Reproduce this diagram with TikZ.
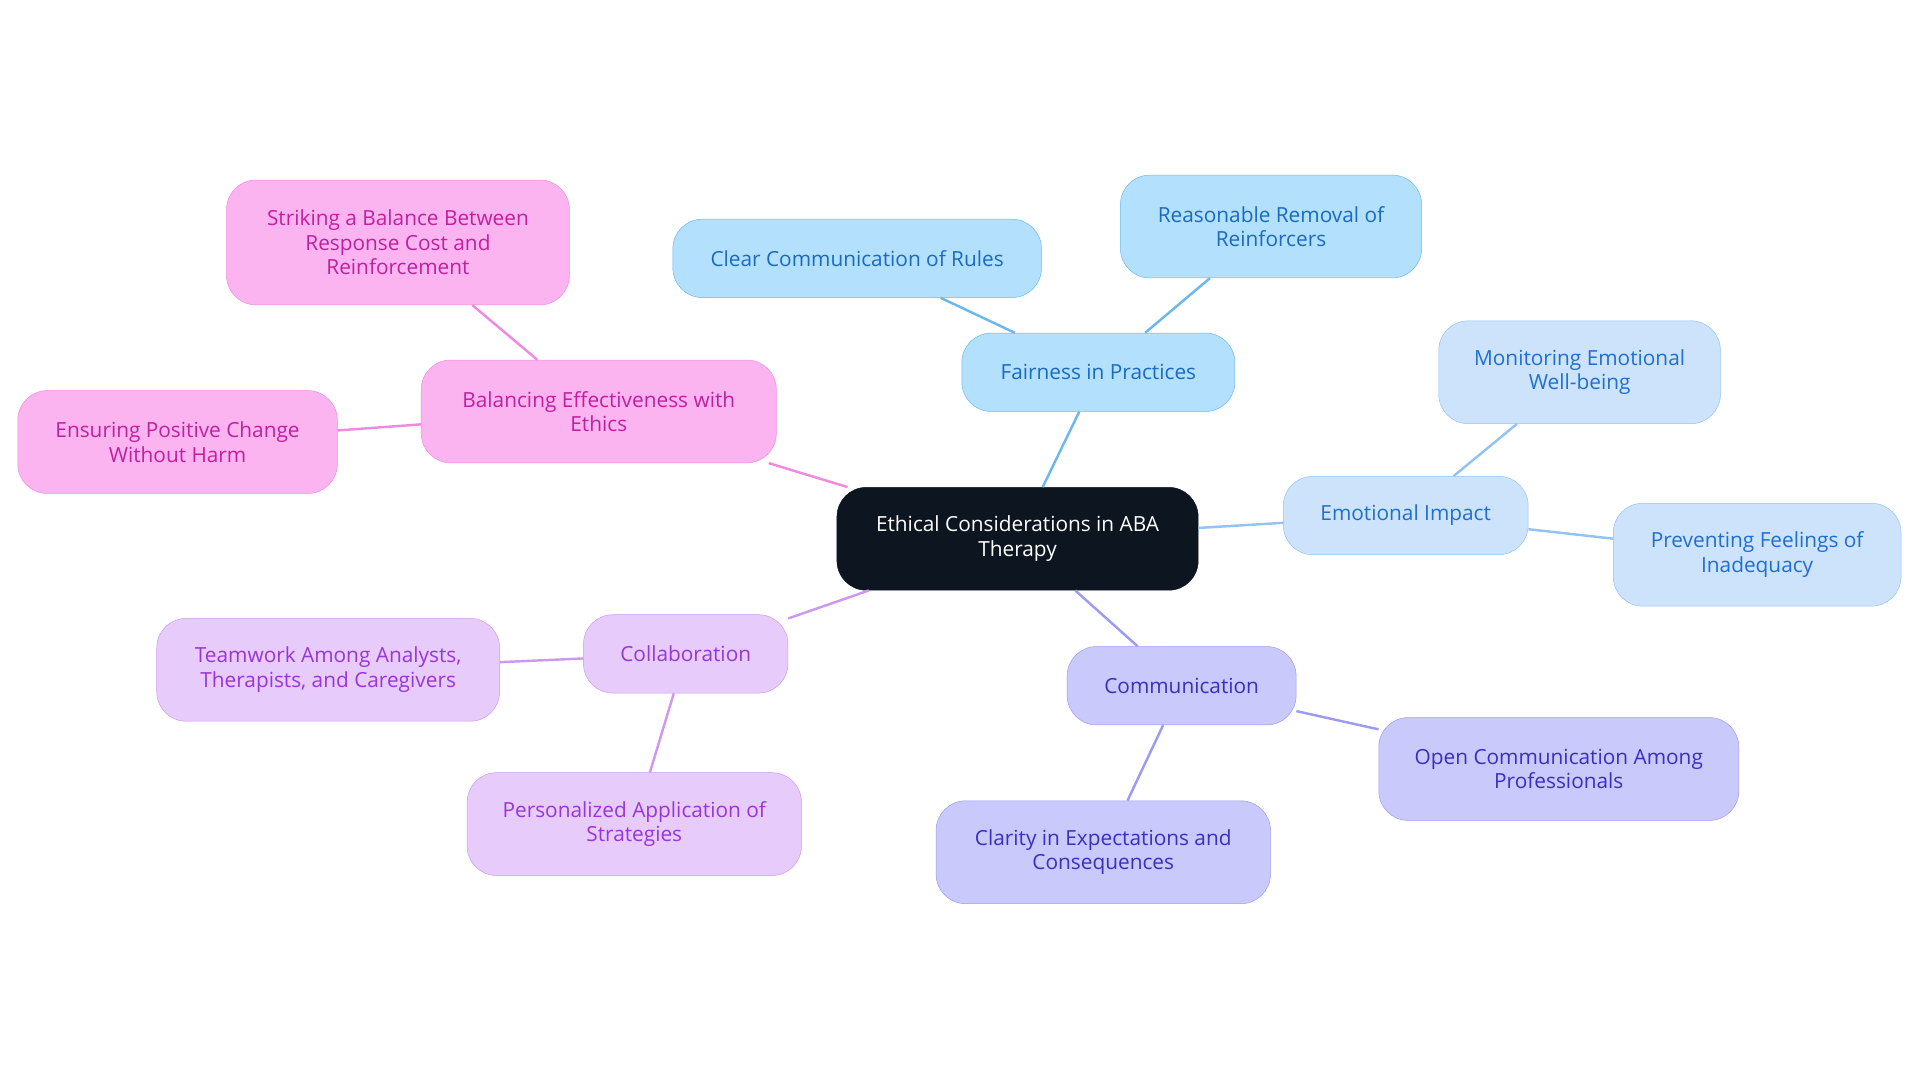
\documentclass[tikz,border=0pt]{standalone}
\usepackage{fontspec}
\setmainfont{Open Sans}
\usepackage{xcolor}
\definecolor{rootfill}{HTML}{0D1520}
\definecolor{fairfill}{HTML}{B3E0FD}\definecolor{fairline}{HTML}{6AB8EE}\definecolor{fairtext}{HTML}{1A6BC0}
\definecolor{emofill}{HTML}{CDE3FB}\definecolor{emoline}{HTML}{94C2F2}\definecolor{emotext}{HTML}{1F6FD0}
\definecolor{comfill}{HTML}{C9C9FB}\definecolor{comline}{HTML}{9B9BF2}\definecolor{comtext}{HTML}{3A2FC0}
\definecolor{colfill}{HTML}{E6CBFB}\definecolor{colline}{HTML}{CF98F0}\definecolor{coltext}{HTML}{9A35D8}
\definecolor{balfill}{HTML}{FCB4F0}\definecolor{balline}{HTML}{F08AE0}\definecolor{baltext}{HTML}{C0209F}
\tikzset{
  box/.style={rounded corners=24pt, draw, align=center, font=\fontsize{17}{20}\selectfont, inner sep=0pt},
  fair/.style={box, fill=fairfill, draw=fairline, text=fairtext},
  emo/.style={box, fill=emofill, draw=emoline, text=emotext},
  com/.style={box, fill=comfill, draw=comline, text=comtext},
  col/.style={box, fill=colfill, draw=colline, text=coltext},
  bal/.style={box, fill=balfill, draw=balline, text=baltext},
  link/.style={line width=2pt}
}
\begin{document}
\begin{tikzpicture}[x=1pt,y=-1pt]
    \useasboundingbox (0,0) rectangle (1568,884);
    % Centre
    \node[box, fill=rootfill, draw=rootfill, text=white, minimum width=295pt, minimum height=84pt] (root) at (831,440) {Ethical Considerations in ABA\\Therapy};

    % Fairness branch
    \node[fair, minimum width=223pt, minimum height=64pt] (fair) at (897,304) {Fairness in Practices};
    \node[fair, minimum width=301pt, minimum height=64pt] (rules) at (700,211) {Clear Communication of Rules};
    \node[fair, minimum width=246pt, minimum height=84pt] (removal) at (1038,185) {Reasonable Removal of\\Reinforcers};

    % Emotional branch
    \node[emo, minimum width=200pt, minimum height=64pt] (emo) at (1148,421) {Emotional Impact};
    \node[emo, minimum width=230pt, minimum height=84pt] (monitor) at (1290,304) {Monitoring Emotional\\Well-being};
    \node[emo, minimum width=235pt, minimum height=84pt] (prevent) at (1435,453) {Preventing Feelings of\\Inadequacy};

    % Communication branch
    \node[com, minimum width=187pt, minimum height=64pt] (com) at (965,560) {Communication};
    \node[com, minimum width=294pt, minimum height=84pt] (open) at (1273,628) {Open Communication Among\\Professionals};
    \node[com, minimum width=273pt, minimum height=84pt] (clarity) at (901,696) {Clarity in Expectations and\\Consequences};

    % Collaboration branch
    \node[col, minimum width=167pt, minimum height=64pt] (col) at (560,534) {Collaboration};
    \node[col, minimum width=280pt, minimum height=84pt] (team) at (268,547) {Teamwork Among Analysts,\\Therapists, and Caregivers};
    \node[col, minimum width=273pt, minimum height=84pt] (person) at (518,673) {Personalized Application of\\Strategies};

    % Balancing branch
    \node[bal, minimum width=290pt, minimum height=84pt] (bal) at (489,336) {Balancing Effectiveness with\\Ethics};
    \node[bal, minimum width=280pt, minimum height=102pt] (strike) at (325,198) {Striking a Balance Between\\Response Cost and\\Reinforcement};
    \node[bal, minimum width=261pt, minimum height=84pt] (ensure) at (145,361) {Ensuring Positive Change\\Without Harm};

    % Links
    \draw[link, fairline] (root) -- (fair);
    \draw[link, fairline] (fair) -- (rules);
    \draw[link, fairline] (fair) -- (removal);
    \draw[link, emoline] (root) -- (emo);
    \draw[link, emoline] (emo) -- (monitor);
    \draw[link, emoline] (emo) -- (prevent);
    \draw[link, comline] (root) -- (com);
    \draw[link, comline] (com) -- (open);
    \draw[link, comline] (com) -- (clarity);
    \draw[link, colline] (root) -- (col);
    \draw[link, colline] (col) -- (team);
    \draw[link, colline] (col) -- (person);
    \draw[link, balline] (root) -- (bal);
    \draw[link, balline] (bal) -- (strike);
    \draw[link, balline] (bal) -- (ensure);
\end{tikzpicture}
\end{document}
